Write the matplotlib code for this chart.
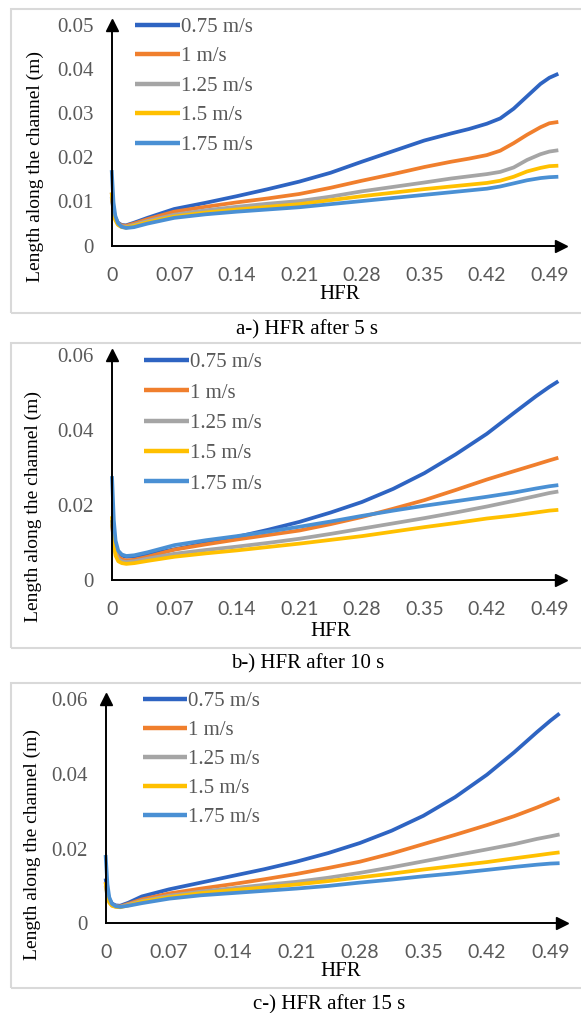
import matplotlib
matplotlib.use("Agg")
import matplotlib.pyplot as plt
from matplotlib.patches import Rectangle

W, H = 581, 1013

# legend labels (flow velocities)
speeds = ["0.75 m/s", "1 m/s", "1.25 m/s", "1.5 m/s", "1.75 m/s"]
colors = ["#2E64C2", "#F07F2D", "#A5A5A5", "#FFC000", "#4A90D4"]

x_ticks = [0, 0.07, 0.14, 0.21, 0.28, 0.35, 0.42, 0.49]
x_labels = ["0", "0.07", "0.14", "0.21", "0.28", "0.35", "0.42", "0.49"]

# a-) HFR after 5 s
hfr_a = [0, 0.002, 0.004, 0.007, 0.011, 0.016, 0.025, 0.04, 0.07, 0.105, 0.14, 0.175, 0.21,
         0.245, 0.28, 0.315, 0.35, 0.38, 0.40, 0.42, 0.435, 0.45, 0.465, 0.48, 0.49, 0.50]
a_075 = [0.011, 0.0078, 0.0062, 0.0052, 0.0047, 0.0046, 0.0052, 0.0063, 0.0083, 0.0097, 0.0112, 0.0128, 0.0145,
         0.0165, 0.019, 0.0214, 0.0238, 0.0254, 0.0264, 0.0276, 0.0288, 0.031, 0.0338, 0.0366, 0.038, 0.0389]
a_100 = [0.012, 0.0082, 0.0063, 0.0051, 0.0046, 0.0045, 0.005, 0.006, 0.0077, 0.0088, 0.0098, 0.0107, 0.0117,
         0.0131, 0.0147, 0.0162, 0.0178, 0.019, 0.0197, 0.0205, 0.0215, 0.0232, 0.0251, 0.0268, 0.0277, 0.028]
a_125 = [0.012, 0.008, 0.006, 0.0049, 0.0044, 0.0043, 0.0047, 0.0056, 0.007, 0.008, 0.0088, 0.0095, 0.0101,
         0.0111, 0.0123, 0.0133, 0.0143, 0.0152, 0.0157, 0.0162, 0.0167, 0.0177, 0.0194, 0.0207, 0.0213, 0.0216]
a_150 = [0.012, 0.0078, 0.0058, 0.0047, 0.0042, 0.0041, 0.0045, 0.0053, 0.0066, 0.0075, 0.0082, 0.0088, 0.0094,
         0.0103, 0.0112, 0.012, 0.0128, 0.0134, 0.0138, 0.0142, 0.0147, 0.0156, 0.0168, 0.0176, 0.018, 0.0181]
a_175 = [0.0171, 0.0098, 0.0068, 0.0051, 0.0043, 0.004, 0.0042, 0.005, 0.0063, 0.0071, 0.0077, 0.0082, 0.0087,
         0.0094, 0.0101, 0.0108, 0.0115, 0.0121, 0.0125, 0.0129, 0.0134, 0.0141, 0.0148, 0.0153, 0.0155, 0.0156]

# b-) HFR after 10 s
hfr_b = [0, 0.002, 0.004, 0.007, 0.011, 0.016, 0.025, 0.04, 0.07, 0.105, 0.14, 0.175,
         0.21, 0.245, 0.28, 0.315, 0.35, 0.385, 0.42, 0.45, 0.475, 0.49, 0.50]
b_075 = [0.016, 0.0115, 0.0088, 0.0072, 0.0065, 0.0062, 0.0063, 0.0068, 0.0082, 0.0098, 0.0115, 0.0134,
         0.0155, 0.018, 0.0208, 0.0243, 0.0285, 0.0335, 0.039, 0.0445, 0.049, 0.0515, 0.053]
b_100 = [0.015, 0.0105, 0.0078, 0.0062, 0.0055, 0.0052, 0.0054, 0.0062, 0.0081, 0.0095, 0.0108, 0.012,
         0.0132, 0.0149, 0.0168, 0.019, 0.0213, 0.024, 0.0268, 0.029, 0.0308, 0.0319, 0.0326]
b_125 = [0.015, 0.010, 0.0072, 0.0056, 0.005, 0.0048, 0.005, 0.0057, 0.007, 0.008, 0.0089, 0.0099,
         0.011, 0.0123, 0.0137, 0.0151, 0.0165, 0.018, 0.0196, 0.0211, 0.0224, 0.0232, 0.0236]
b_150 = [0.017, 0.0095, 0.0065, 0.005, 0.0045, 0.0043, 0.0045, 0.0051, 0.0062, 0.0071, 0.0079, 0.0088,
         0.0097, 0.0107, 0.0117, 0.0129, 0.0141, 0.0152, 0.0164, 0.0172, 0.018, 0.0185, 0.0187]
b_175 = [0.0277, 0.016, 0.0105, 0.0078, 0.0068, 0.0064, 0.0066, 0.0074, 0.0093, 0.0106, 0.0117, 0.0129,
         0.0142, 0.0156, 0.0171, 0.0185, 0.0198, 0.021, 0.0222, 0.0233, 0.0244, 0.025, 0.0253]

# c-) HFR after 15 s
hfr_c = [0, 0.002, 0.004, 0.007, 0.011, 0.016, 0.025, 0.04, 0.07, 0.105, 0.14, 0.175,
         0.21, 0.245, 0.28, 0.315, 0.35, 0.385, 0.42, 0.45, 0.475, 0.49, 0.50]
c_075 = [0.012, 0.0085, 0.0065, 0.0053, 0.0048, 0.0047, 0.0055, 0.0072, 0.0091, 0.0109, 0.0127, 0.0145,
         0.0165, 0.0188, 0.0215, 0.0248, 0.0288, 0.0338, 0.0398, 0.0458, 0.0512, 0.0543, 0.0562]
c_100 = [0.011, 0.0078, 0.006, 0.005, 0.0046, 0.0045, 0.0052, 0.0064, 0.008, 0.0093, 0.0105, 0.0118,
         0.0132, 0.0148, 0.0165, 0.0187, 0.0212, 0.0237, 0.0263, 0.0287, 0.031, 0.0325, 0.0335]
c_125 = [0.010, 0.0072, 0.0057, 0.0048, 0.0045, 0.0044, 0.005, 0.006, 0.0074, 0.0085, 0.0094, 0.0103,
         0.0111, 0.0122, 0.0135, 0.015, 0.0166, 0.0182, 0.0198, 0.0212, 0.0226, 0.0233, 0.0238]
c_150 = [0.011, 0.0074, 0.0056, 0.0047, 0.0044, 0.0043, 0.0048, 0.0058, 0.007, 0.0081, 0.0089, 0.0096,
         0.0104, 0.0113, 0.0123, 0.0133, 0.0144, 0.0154, 0.0164, 0.0174, 0.0182, 0.0187, 0.019]
c_175 = [0.0183, 0.0105, 0.007, 0.0052, 0.0046, 0.0044, 0.0047, 0.0054, 0.0066, 0.0075, 0.0081, 0.0087,
         0.0093, 0.01, 0.0109, 0.0117, 0.0126, 0.0134, 0.0143, 0.0151, 0.0157, 0.016, 0.0161]

serif = "Liberation Serif"
sans = "Lato"
grey_txt = "#595959"


def px_axes(left, right, top, bottom):
    # pixel box -> figure fractions
    return [left / W, 1 - bottom / H, (right - left) / W, (bottom - top) / H]


def draw_panel(ax, x, series, ymax, ystep, ylab_xy, hfr_xy, leg_xy, leg_space):
    for y, c, lab in zip(series, colors, speeds):
        ax.plot(x, y, color=c, lw=2.7, label=lab, solid_capstyle="butt",
                solid_joinstyle="round", clip_on=False)
    ax.set_xlim(0, 0.503)
    ax.set_ylim(0, ymax)
    for s in ["top", "right"]:
        ax.spines[s].set_visible(False)
    for s in ["left", "bottom"]:
        ax.spines[s].set_linewidth(1.4)
        ax.spines[s].set_color("black")
    # arrow heads on the axis ends
    ax.plot(1, 0, ">k", ms=8, transform=ax.get_yaxis_transform(), clip_on=False)
    ax.plot(0, 1, "^k", ms=8, transform=ax.get_xaxis_transform(), clip_on=False)

    ax.set_xticks(x_ticks)
    ax.set_xticklabels(x_labels, fontfamily=sans, fontsize=14, color=grey_txt)
    yt = [round(i * ystep, 2) for i in range(int(round(ymax / ystep)) + 1)]
    ax.set_yticks(yt)
    ax.set_yticklabels(["0"] + [f"{v:.2f}" for v in yt[1:]], fontfamily=serif,
                       fontsize=15, color=grey_txt)
    ax.tick_params(axis="both", length=0)
    ax.tick_params(axis="y", pad=13)
    ax.tick_params(axis="x", pad=15)

    ax.set_ylabel("Length along the channel (m)", fontfamily=serif, fontsize=14)
    ax.yaxis.set_label_coords(*ylab_xy)
    ax.set_xlabel("HFR", fontfamily=serif, fontsize=15)
    ax.xaxis.set_label_coords(*hfr_xy)
    ax.xaxis.label.set_va("center")
    ax.yaxis.label.set_va("center")

    leg = ax.legend(loc="upper left", bbox_to_anchor=leg_xy, frameon=False,
                    prop={"family": serif, "size": 15}, handlelength=2.15,
                    handletextpad=0.05, labelspacing=leg_space, borderpad=0,
                    borderaxespad=0)
    for t in leg.get_texts():
        t.set_color(grey_txt)
    for h in leg.get_lines():
        h.set_linewidth(3.2)


fig = plt.figure(figsize=(W / 100, H / 100), dpi=100)
fig.patch.set_facecolor("white")

# light grey frames round each panel
for top, bottom in [(9, 313), (343, 648), (683, 988)]:
    fig.patches.append(Rectangle((11 / W, 1 - bottom / H), (590 - 11) / W, (bottom - top) / H,
                                 transform=fig.transFigure, fill=False,
                                 edgecolor="#D9D9D9", lw=1.5))

ax_a = fig.add_axes(px_axes(111.7, 561, 24.7, 245.7))
draw_panel(ax_a, hfr_a, [a_075, a_100, a_125, a_150, a_175], 0.05, 0.01,
           (-0.171, 0.358), (0.508, -0.223), (0.052, 1.033), 0.475)

ax_b = fig.add_axes(px_axes(112, 561, 355, 580))
draw_panel(ax_b, hfr_b, [b_075, b_100, b_125, b_150, b_175], 0.06, 0.02,
           (-0.176, 0.326), (0.488, -0.23), (0.071, 1.011), 0.52)

ax_c = fig.add_axes(px_axes(105.6, 562.3, 699.3, 923.3))
draw_panel(ax_c, hfr_c, [c_075, c_100, c_125, c_150, c_175], 0.06, 0.02,
           (-0.16, 0.35), (0.515, -0.213), (0.081, 1.036), 0.46)

captions = ["a-) HFR after 5 s", "b-) HFR after 10 s", "c-) HFR after 15 s"]
for cap, (cx, cy) in zip(captions, [(307, 329.3), (308, 663.3), (329, 1004.3)]):
    fig.text(cx / W, 1 - cy / H, cap, ha="center", va="center",
             fontfamily=serif, fontsize=15)

fig.savefig("out.png", dpi=100)
